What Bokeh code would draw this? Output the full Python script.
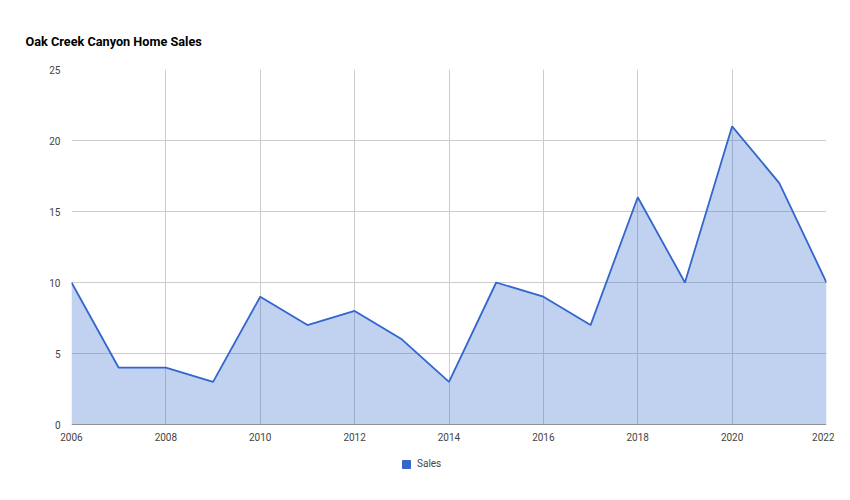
from bokeh.plotting import figure
from bokeh.layouts import column
from bokeh.models import Range1d, FixedTicker, Legend, LegendItem, ColumnDataSource, Span
from bokeh.embed import file_html
from bokeh.resources import INLINE

years = [2006, 2007, 2008, 2009, 2010, 2011, 2012, 2013, 2014, 2015, 2016, 2017, 2018, 2019, 2020, 2021, 2022]
sales = [10, 4, 4, 3, 9, 7, 8, 6, 3, 10, 9, 7, 16, 10, 21, 17, 10]
x_ticks = [2006, 2008, 2010, 2012, 2014, 2016, 2018, 2020, 2022]
y_ticks = [0, 5, 10, 15, 20, 25]
series_name = "Sales"
title_text = "Oak Creek Canyon Home Sales"

src = ColumnDataSource(dict(x=years, y=sales, z=[0] * len(years)))

p = figure(width=834, height=444, output_backend="svg", toolbar_location=None,
           x_range=Range1d(2006, 2022), y_range=Range1d(0, 25),
           min_border_left=71, min_border_right=8, min_border_top=69, min_border_bottom=20)

p.title.text = title_text
p.title.text_font = "Roboto"
p.title.text_font_size = "12.7px"
p.title.text_font_style = "bold"
p.title.text_color = "#000000"
p.title.offset = -46
p.title.standoff = 41
p.outline_line_color = None

p.varea(x="x", y1="z", y2="y", source=src, fill_color="#3366cc", fill_alpha=0.3)
p.line(x="x", y="y", source=src, line_color="#3366cc", line_width=1.8)
p.add_layout(Span(location=0, dimension="width", line_color="#333333", line_width=1))

for ax, ticks in ((p.xaxis, x_ticks), (p.yaxis, y_ticks)):
    ax.ticker = FixedTicker(ticks=ticks)
    ax.axis_line_color = None
    ax.major_tick_line_color = None
    ax.minor_tick_line_color = None
    ax.major_label_text_font = "Roboto"
    ax.major_label_text_font_size = "10px"
    ax.major_label_text_color = "#444444"
p.yaxis.major_label_standoff = 5
p.xaxis.major_label_standoff = 2

p.xgrid.ticker = FixedTicker(ticks=x_ticks)
p.ygrid.ticker = FixedTicker(ticks=y_ticks)
p.grid.grid_line_color = "#cccccc"
p.grid.grid_line_width = 1

# legend strip
lf = figure(width=834, height=40, output_backend="svg", toolbar_location=None,
            x_range=Range1d(0, 1), y_range=Range1d(0, 1),
            x_axis_location=None, y_axis_location=None,
            min_border_left=0, min_border_right=0, min_border_top=0, min_border_bottom=0)
lf.grid.visible = False
lf.outline_line_color = None
dummy = lf.quad(left=[5], right=[6], bottom=[5], top=[6], fill_color="#3366cc", line_color="#3366cc")
legend = Legend(items=[LegendItem(label=series_name, renderers=[dummy])], location=(330, 15),
                orientation="horizontal", border_line_color=None, background_fill_alpha=0,
                label_text_font="Roboto", label_text_font_size="10px", label_text_color="#444444",
                glyph_width=10, glyph_height=10, label_standoff=6, margin=0, padding=4,
                label_height=10)
lf.add_layout(legend, "center")

open("out.html", "w").write(file_html(column(p, lf, spacing=0), INLINE))
